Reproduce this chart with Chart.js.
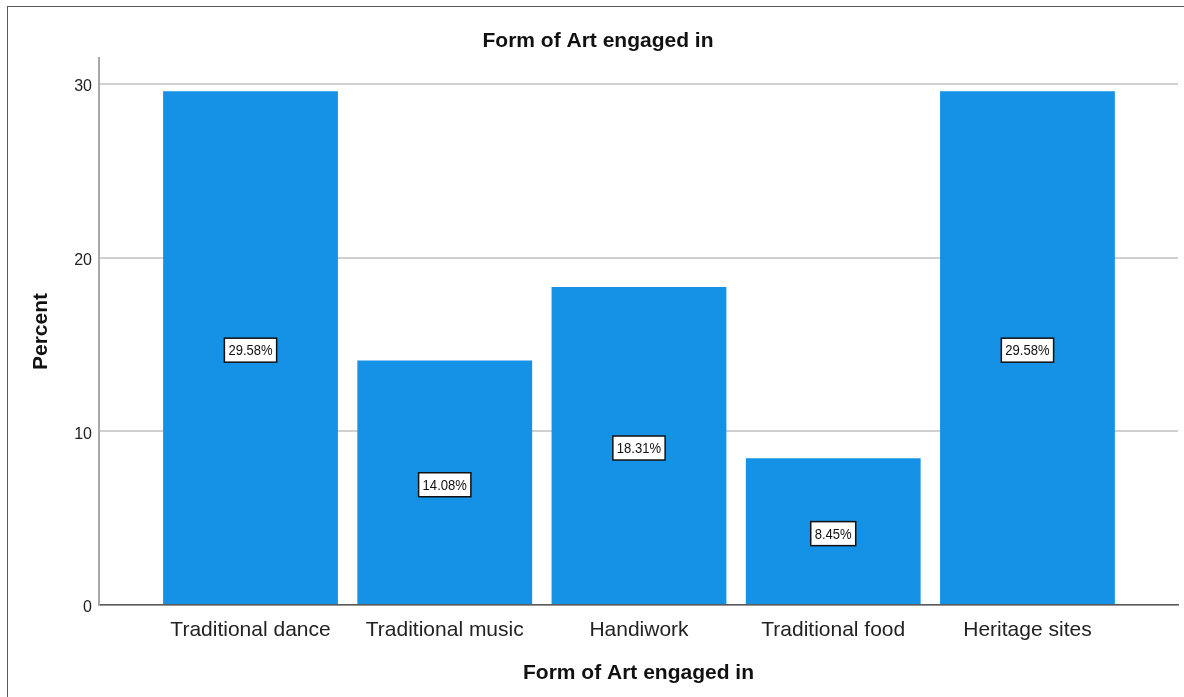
<!DOCTYPE html>
<html>
<head>
<meta charset="utf-8">
<script src="https://cdn.jsdelivr.net/npm/chart.js@4"></script>
<style>
  html,body{margin:0;padding:0;background:#fff;overflow:hidden;}
  #wrap{position:relative;width:1184px;height:697px;}
  #frame{position:absolute;left:7px;top:6px;width:1300px;height:800px;border-left:1.5px solid #5a5a5a;border-top:1.5px solid #5a5a5a;}
  canvas{position:absolute;left:0;top:0;}
</style>
</head>
<body>
<div id="wrap">
  <div id="frame"></div>
  <canvas id="c" width="1184" height="697"></canvas>
</div>
<script>
/* Form of Art engaged in — percent bar chart */
const categories=['Traditional dance','Traditional music','Handiwork','Traditional food','Heritage sites'];
const percents=[29.58,14.08,18.31,8.45,29.58];
const yTicks=[0,10,20,30];
const chartTitle='Form of Art engaged in';
const xTitle='Form of Art engaged in';
const yTitle='Percent';

const FONT='"Liberation Sans", Arial, sans-serif';

/* titles + boxed value labels */
const decor={
  id:'decor',
  afterDatasetsDraw(chart){
    const ctx=chart.ctx, x=chart.scales.x, y=chart.scales.y;
    ctx.save();
    // value labels in the middle of each bar
    ctx.font='15px '+FONT;
    ctx.textAlign='center';ctx.textBaseline='middle';
    percents.forEach((v,i)=>{
      const px=x.getPixelForValue(i), py=y.getPixelForValue(v/2)+2;
      const txt=v.toFixed(2)+'%';
      const sx=0.87;
      const w=ctx.measureText(txt).width*sx+8, h=24;
      ctx.fillStyle='#fff';
      ctx.fillRect(px-w/2,py-h/2,w,h);
      ctx.strokeStyle='#111';ctx.lineWidth=1.5;
      ctx.strokeRect(px-w/2,py-h/2,w,h);
      ctx.fillStyle='#111';
      ctx.save();ctx.translate(px,py+1);ctx.scale(sx,1);
      ctx.fillText(txt,0,0);
      ctx.restore();
    });
    // titles
    ctx.fillStyle='#111';
    ctx.font='bold 21px '+FONT;
    ctx.textBaseline='alphabetic';
    ctx.fillText(chartTitle,598,47);
    ctx.fillText(xTitle,(chart.chartArea.left+chart.chartArea.right)/2,679);
    ctx.translate(47,(chart.chartArea.top+chart.chartArea.bottom)/2);
    ctx.rotate(-Math.PI/2);
    ctx.fillText(yTitle,0,0);
    ctx.restore();
  }
};

new Chart(document.getElementById('c'),{
  type:'bar',
  data:{
    datasets:[{
      data:percents.map((v,i)=>({x:i,y:v})),
      backgroundColor:'#1592e6',borderWidth:0,
      barPercentage:0.9,categoryPercentage:1.0
    }]
  },
  plugins:[decor],
  options:{
    responsive:false,animation:false,
    layout:{padding:{top:58,right:6,left:0,bottom:0}},
    plugins:{legend:{display:false},tooltip:{enabled:false},title:{display:false}},
    scales:{
      x:{
        type:'linear',min:-0.78,max:4.775,offset:false,
        afterBuildTicks:s=>{s.ticks=categories.map((_,i)=>({value:i}));},
        afterFit:s=>{s.height=92;},
        grid:{display:false,drawTicks:false},
        border:{display:true,color:'#5a5a5a',width:1.5},
        ticks:{autoSkip:false,maxRotation:0,padding:13,color:'#222',
          font:{family:FONT,size:21},
          callback:v=>categories[v]??''}
      },
      y:{
        min:0,max:31.5,
        afterBuildTicks:s=>{s.ticks=yTicks.map(v=>({value:v}));},
        afterFit:s=>{s.width=99;},
        grid:{color:'#d0d0d0',lineWidth:2,drawTicks:false},
        border:{display:true,color:'#a8a8a8',width:2},
        ticks:{padding:7,labelOffset:3,color:'#222',font:{family:FONT,size:16}}
      }
    }
  }
});
</script>
</body>
</html>
